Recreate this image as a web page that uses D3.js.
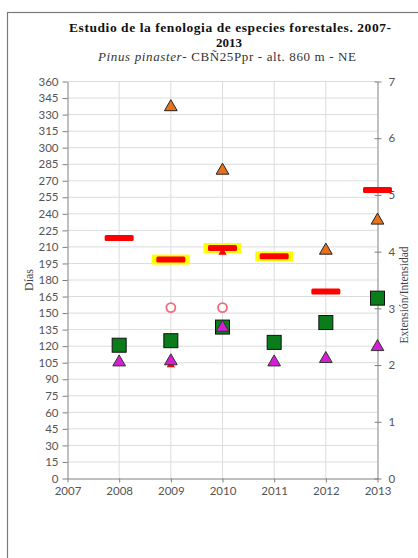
<!DOCTYPE html>
<html><head><meta charset="utf-8">
<script src="https://cdn.jsdelivr.net/npm/d3@7"></script>
<style>body{margin:0;background:#fff}svg{display:block}</style>
</head><body>
<svg id="c" width="418" height="558"></svg>
<script>
// ---- data ----
const years = [2008, 2009, 2010, 2011, 2012, 2013];
const xTicks = [2007, 2008, 2009, 2010, 2011, 2012, 2013];
const leftTicks = d3.range(0, 361, 15);
const rightTicks = [0, 1, 2, 3, 4, 5, 6, 7];
// days (left axis)
const redDash = [218, 198.5, 209, 201.5, 169.5, 261.7];
const yellowDash = [null, 198.5, 209, 201.5, null, null];
const pinkRing = [null, 155, 155, null, null, null];
const redSmall = [null, 103, 205, null, null, null];
// extension / intensity (right axis)
const orangeTri = [null, 6.55, 5.43, null, 4.02, 4.55];
const greenSq = [2.35, 2.43, 2.67, 2.40, 2.75, 3.18];
const magentaTri = [2.05, 2.07, 2.66, 2.05, 2.11, 2.32];

const svg = d3.select("#c");
const x = d3.scaleLinear().domain([2007, 2013]).range([67.5, 377.5]);
const yL = d3.scaleLinear().domain([0, 360]).range([478.5, 81.5]);
const yR = d3.scaleLinear().domain([0, 7]).range([478.5, 81.5]);

// frame
svg.append("rect").attr("x", 7.5).attr("y", 12.5).attr("width", 440).attr("height", 600)
  .attr("fill", "none").attr("stroke", "#7a7a7a").attr("stroke-width", 1.2);

// title
const tf = "'Liberation Serif', serif";
svg.append("text").attr("x", 230).attr("y", 31.6).attr("text-anchor", "middle")
  .attr("font-family", tf).attr("font-weight", "bold").attr("font-size", 13.5).attr("fill", "#111")
  .attr("textLength", 322).attr("lengthAdjust", "spacing")
  .text("Estudio de la fenologia de especies forestales. 2007-");
svg.append("text").attr("x", 229).attr("y", 46.6).attr("text-anchor", "middle")
  .attr("font-family", tf).attr("font-weight", "bold").attr("font-size", 13).attr("fill", "#111")
  .text("2013");
const st = svg.append("text").attr("x", 227).attr("y", 61).attr("text-anchor", "middle")
  .attr("font-family", tf).attr("font-size", 13).attr("fill", "#333")
  .attr("textLength", 258).attr("lengthAdjust", "spacing");
st.append("tspan").attr("font-style", "italic").text("Pinus pinaster");
st.append("tspan").text("- CBÑ25Ppr - alt. 860 m - NE");

// grid
const g = svg.append("g");
g.selectAll("line.h").data(leftTicks.filter(d => d > 0)).join("line")
  .attr("x1", x(2007)).attr("x2", x(2013)).attr("y1", d => yL(d)).attr("y2", d => yL(d))
  .attr("stroke", "#dcdcdc").attr("stroke-width", 1);
g.selectAll("line.v").data(xTicks.slice(1, -1)).join("line")
  .attr("x1", d => x(d)).attr("x2", d => x(d)).attr("y1", yL(360)).attr("y2", yL(0))
  .attr("stroke", "#dcdcdc").attr("stroke-width", 1);

const lf = "Lato, 'Open Sans', sans-serif";
function styleAxis(sel) {
  sel.selectAll("path.domain").attr("stroke", "#808080");
  sel.selectAll(".tick line").attr("stroke", "#808080");
  sel.selectAll(".tick text").attr("font-family", lf).attr("font-size", 11.5).attr("fill", "#555");
}
const axL = svg.append("g").attr("transform", `translate(${x(2007)},0)`)
  .call(d3.axisLeft(yL).tickValues(leftTicks).tickSize(5).tickSizeOuter(0).tickPadding(4));
styleAxis(axL);
const axR = svg.append("g").attr("transform", `translate(${x(2013)},0)`)
  .call(d3.axisRight(yR).tickValues(rightTicks).tickFormat(d3.format("d")).tickSize(4).tickSizeOuter(0).tickPadding(7));
axR.selectAll(".tick line").attr("x1", -3);
styleAxis(axR);
const axB = svg.append("g").attr("transform", `translate(0,${yL(0)})`)
  .call(d3.axisBottom(x).tickValues(xTicks).tickFormat(d3.format("d")).tickSize(4).tickSizeOuter(0).tickPadding(4));
styleAxis(axB);

// axis titles
svg.append("text").attr("transform", `translate(33,${(yL(0) + yL(360)) / 2}) rotate(-90)`)
  .attr("text-anchor", "middle").attr("font-family", tf).attr("font-size", 12).attr("fill", "#444").text("Días");
svg.append("text").attr("transform", `translate(408,${(yL(0) + yL(360)) / 2 + 15}) rotate(-90)`)
  .attr("text-anchor", "middle").attr("font-family", tf).attr("font-size", 11.5).attr("fill", "#444").text("Extensión/Intensidad");

// marks
const m = svg.append("g");
const idx = d3.range(years.length);
function pts(arr) { return idx.filter(i => arr[i] != null); }

// yellow dashes
m.selectAll("rect.yd").data(pts(yellowDash)).join("rect")
  .attr("x", i => x(years[i]) - 19).attr("y", i => yL(yellowDash[i]) - 5)
  .attr("width", 38).attr("height", 10).attr("fill", "#ffff00");
// small red triangles
m.selectAll("path.rs").data(pts(redSmall)).join("path")
  .attr("transform", i => `translate(${x(years[i])},${yL(redSmall[i])})`)
  .attr("d", d3.symbol(d3.symbolTriangle, 30)).attr("fill", "#ff0000");
// red dashes
m.selectAll("rect.rd").data(pts(redDash)).join("rect")
  .attr("x", i => x(years[i]) - 14.5).attr("y", i => yL(redDash[i]) - 3)
  .attr("width", 29).attr("height", 6).attr("rx", 1.5).attr("fill", "#ff0000");
// pink rings
m.selectAll("circle.pr").data(pts(pinkRing)).join("circle")
  .attr("cx", i => x(years[i])).attr("cy", i => yL(pinkRing[i])).attr("r", 4.5)
  .attr("fill", "#fff").attr("stroke", "#f26b7a").attr("stroke-width", 1.8);
// orange triangles
m.selectAll("path.ot").data(pts(orangeTri)).join("path")
  .attr("transform", i => `translate(${x(years[i])},${yR(orangeTri[i])})`)
  .attr("d", d3.symbol(d3.symbolTriangle, 70)).attr("fill", "#e8721c").attr("stroke", "#222").attr("stroke-width", 1);
// green squares
m.selectAll("rect.gs").data(pts(greenSq)).join("rect")
  .attr("x", i => x(years[i]) - 7).attr("y", i => yR(greenSq[i]) - 7)
  .attr("width", 14).attr("height", 14).attr("fill", "#0a7d1a").attr("stroke", "#111").attr("stroke-width", 1);
// magenta triangles
m.selectAll("path.mt").data(pts(magentaTri)).join("path")
  .attr("transform", i => `translate(${x(years[i])},${yR(magentaTri[i])})`)
  .attr("d", d3.symbol(d3.symbolTriangle, 70)).attr("fill", "#d21fd2").attr("stroke", "#333").attr("stroke-width", 1);
</script>
</body></html>
